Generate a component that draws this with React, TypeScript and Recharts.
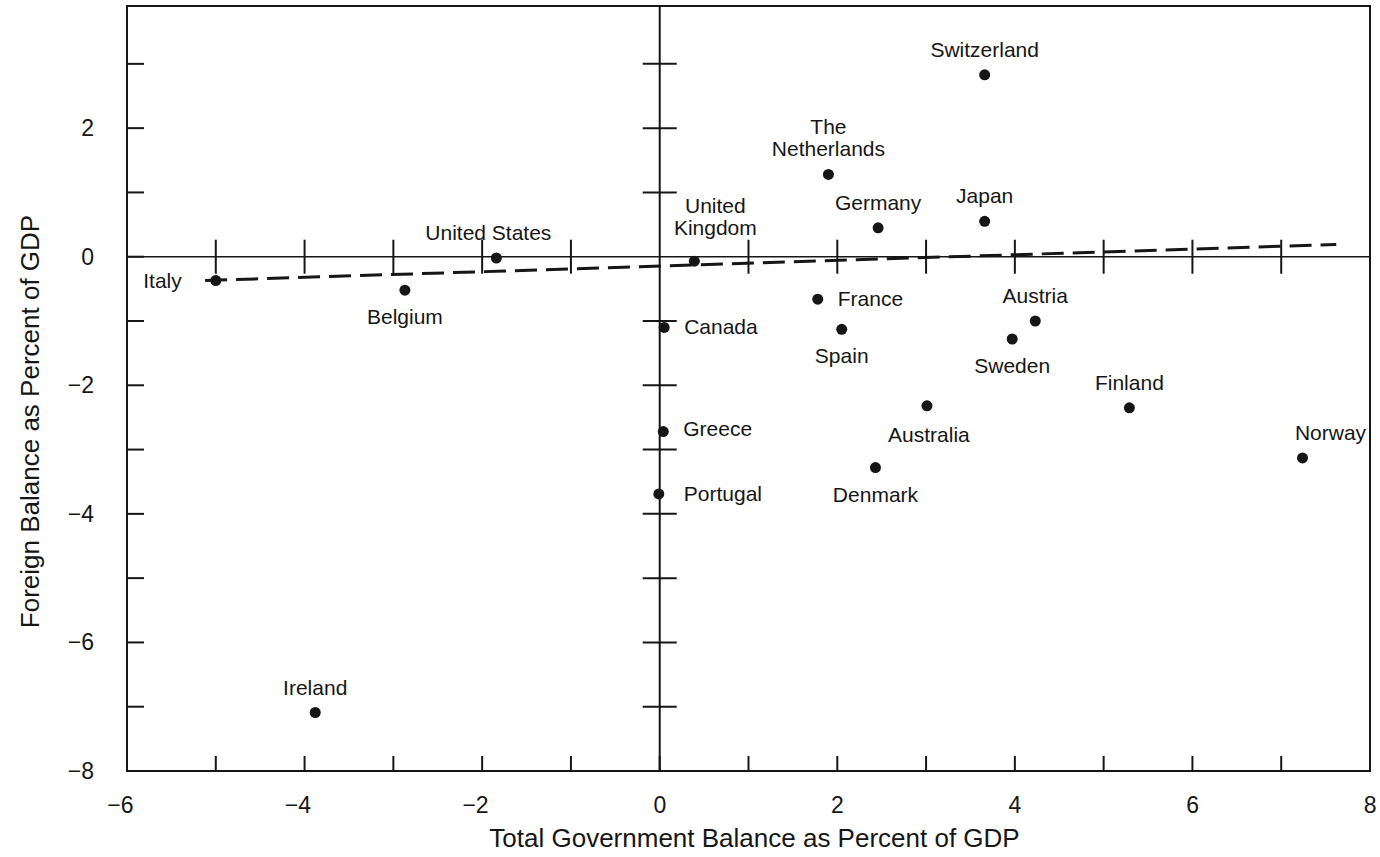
import React from "react";
import {
  ScatterChart,
  Scatter,
  XAxis,
  YAxis,
  ReferenceLine,
  ReferenceArea,
  Label,
} from "recharts";

const FONT = '"Liberation Sans", Arial, Helvetica, sans-serif';
const INK = "#161616";

const countries = [
  "Switzerland",
  "The Netherlands",
  "Germany",
  "Japan",
  "United States",
  "United Kingdom",
  "Italy",
  "Belgium",
  "France",
  "Spain",
  "Canada",
  "Austria",
  "Sweden",
  "Finland",
  "Australia",
  "Greece",
  "Denmark",
  "Portugal",
  "Norway",
  "Ireland",
];
// total government balance, % of GDP
const govBalance = [
  3.66, 1.9, 2.46, 3.66, -1.84, 0.39, -5.0, -2.87, 1.78, 2.05, 0.05, 4.23,
  3.97, 5.29, 3.01, 0.04, 2.43, -0.01, 7.24, -3.88,
];
// foreign balance, % of GDP
const foreignBalance = [
  2.83, 1.28, 0.45, 0.55, -0.02, -0.07, -0.37, -0.52, -0.66, -1.13, -1.1, -1.0,
  -1.28, -2.35, -2.32, -2.72, -3.28, -3.69, -3.13, -7.09,
];

const xTicks = [-6, -5, -4, -3, -2, -1, 0, 1, 2, 3, 4, 5, 6, 7, 8];
const xTickLabels = [-6, -4, -2, 0, 2, 4, 6, 8];
const yTicks = [-8, -7, -6, -5, -4, -3, -2, -1, 0, 1, 2, 3];
const yTickLabels = [-8, -6, -4, -2, 0, 2];

// fitted line
const trendX = [-5.12, 7.62];
const trendY = [-0.37, 0.19];

const points = countries.map((name, i) => ({
  name,
  x: govBalance[i],
  y: foreignBalance[i],
}));
const crossX = xTicks
  .filter((v) => v > -6 && v < 8 && v !== 0)
  .map((v) => ({ x: v, y: 0 }));
const crossY = yTicks
  .filter((v) => v > -8 && v !== 0)
  .map((v) => ({ x: 0, y: v }));

type Place = {
  dx: number;
  dy: number;
  anchor: "start" | "middle" | "end";
  lines?: string[];
};
const ABOVE: Place = { dx: 0, dy: -18, anchor: "middle" };
const BELOW: Place = { dx: 0, dy: 34, anchor: "middle" };
const RIGHT: Place = { dx: 20, dy: 7, anchor: "start" };

const placement: Record<string, Place> = {
  Switzerland: ABOVE,
  "The Netherlands": { ...ABOVE, lines: ["The", "Netherlands"] },
  Germany: ABOVE,
  Japan: ABOVE,
  "United States": { ...ABOVE, dx: -8 },
  "United Kingdom": { dx: 21, dy: -26, anchor: "middle", lines: ["United", "Kingdom"] },
  Italy: { dx: -34, dy: 7, anchor: "end" },
  Belgium: BELOW,
  France: { ...RIGHT, dy: 7 },
  Spain: BELOW,
  Canada: RIGHT,
  Austria: ABOVE,
  Sweden: BELOW,
  Finland: ABOVE,
  Australia: { ...BELOW, dx: 2, dy: 36 },
  Greece: { ...RIGHT, dy: 4 },
  Denmark: BELOW,
  Portugal: { ...RIGHT, dx: 25 },
  Norway: { ...ABOVE, dx: 28 },
  Ireland: ABOVE,
};

const fmt = (v: number) => (v < 0 ? `\u2212${Math.abs(v)}` : `${v}`);

const XTick = (props: any) => {
  const { x, y, payload } = props;
  const v = payload.value;
  return (
    <g>
      {v > -6 && v < 8 && (
        <line x1={x} x2={x} y1={y} y2={y - 15} stroke={INK} strokeWidth={2} />
      )}
      {xTickLabels.includes(v) && (
        <text
          x={x + 6.5}
          y={y + 42}
          textAnchor="end"
          fontSize={23}
          fontFamily={FONT}
          fill={INK}
        >
          {fmt(v)}
        </text>
      )}
    </g>
  );
};

const YTick = (props: any) => {
  const { x, y, payload } = props;
  const v = payload.value;
  return (
    <g>
      {v > -8 && (
        <line x1={x} x2={x + 17} y1={y} y2={y} stroke={INK} strokeWidth={2} />
      )}
      {yTickLabels.includes(v) && (
        <text
          x={x - 33}
          y={y + 8}
          textAnchor="end"
          fontSize={23}
          fontFamily={FONT}
          fill={INK}
        >
          {fmt(v)}
        </text>
      )}
    </g>
  );
};

const CountryDot = (props: any) => {
  const { cx, cy, payload } = props;
  const p = placement[payload.name] ?? ABOVE;
  const lines = p.lines ?? [payload.name];
  return (
    <g>
      <circle cx={cx} cy={cy} r={5.5} fill={INK} />
      {lines.map((t, i) => (
        <text
          key={t}
          x={cx + p.dx}
          y={cy + p.dy - (lines.length - 1 - i) * 22}
          textAnchor={p.anchor}
          fontSize={21}
          fontFamily={FONT}
          fill={INK}
        >
          {t}
        </text>
      ))}
    </g>
  );
};

const VTickMark = (props: any) => (
  <line
    x1={props.cx}
    x2={props.cx}
    y1={props.cy - 17}
    y2={props.cy + 17}
    stroke={INK}
    strokeWidth={2}
  />
);
const HTickMark = (props: any) => (
  <line
    x1={props.cx - 17}
    x2={props.cx + 17}
    y1={props.cy}
    y2={props.cy}
    stroke={INK}
    strokeWidth={2}
  />
);

export default function App() {
  return (
    <div style={{ position: "absolute", left: 0, top: 0, background: "#fff" }}>
      <ScatterChart
        width={1380}
        height={857}
        margin={{ top: 6, right: 10, bottom: 0, left: 0 }}
      >
        <XAxis
          type="number"
          dataKey="x"
          domain={[-6, 8]}
          ticks={xTicks}
          interval={0}
          tickSize={0}
          tickMargin={0}
          axisLine={false}
          tickLine={false}
          tick={<XTick />}
          height={86}
        >
          <Label
            content={(props: any) => (
              <text
                x={props.viewBox.x + props.viewBox.width / 2 + 6}
                y={847}
                textAnchor="middle"
                fontSize={26}
                fontFamily={FONT}
                fill={INK}
              >
                Total Government Balance as Percent of GDP
              </text>
            )}
          />
        </XAxis>
        <YAxis
          type="number"
          dataKey="y"
          domain={[-8, 3.9]}
          ticks={yTicks}
          interval={0}
          tickSize={0}
          tickMargin={0}
          axisLine={false}
          tickLine={false}
          tick={<YTick />}
          width={127}
        >
          <Label
            content={(props: any) => (
              <text
                transform={`translate(39, ${
                  props.viewBox.y + props.viewBox.height / 2 + 33
                }) rotate(-90)`}
                textAnchor="middle"
                fontSize={26}
                fontFamily={FONT}
                fill={INK}
              >
                Foreign Balance as Percent of GDP
              </text>
            )}
          />
        </YAxis>
        <ReferenceArea
          x1={-6}
          x2={8}
          y1={-8}
          y2={3.9}
          fill="none"
          stroke={INK}
          strokeWidth={2}
        />
        <ReferenceLine x={0} stroke={INK} strokeWidth={2} />
        <ReferenceLine y={0} stroke={INK} strokeWidth={1.5} />
        <ReferenceLine
          segment={[
            { x: trendX[0], y: trendY[0] },
            { x: trendX[1], y: trendY[1] },
          ]}
          stroke={INK}
          strokeWidth={3}
          strokeDasharray="22 9"
        />
        <Scatter data={crossX} shape={<VTickMark />} isAnimationActive={false} />
        <Scatter data={crossY} shape={<HTickMark />} isAnimationActive={false} />
        <Scatter data={points} shape={<CountryDot />} isAnimationActive={false} />
      </ScatterChart>
    </div>
  );
}
